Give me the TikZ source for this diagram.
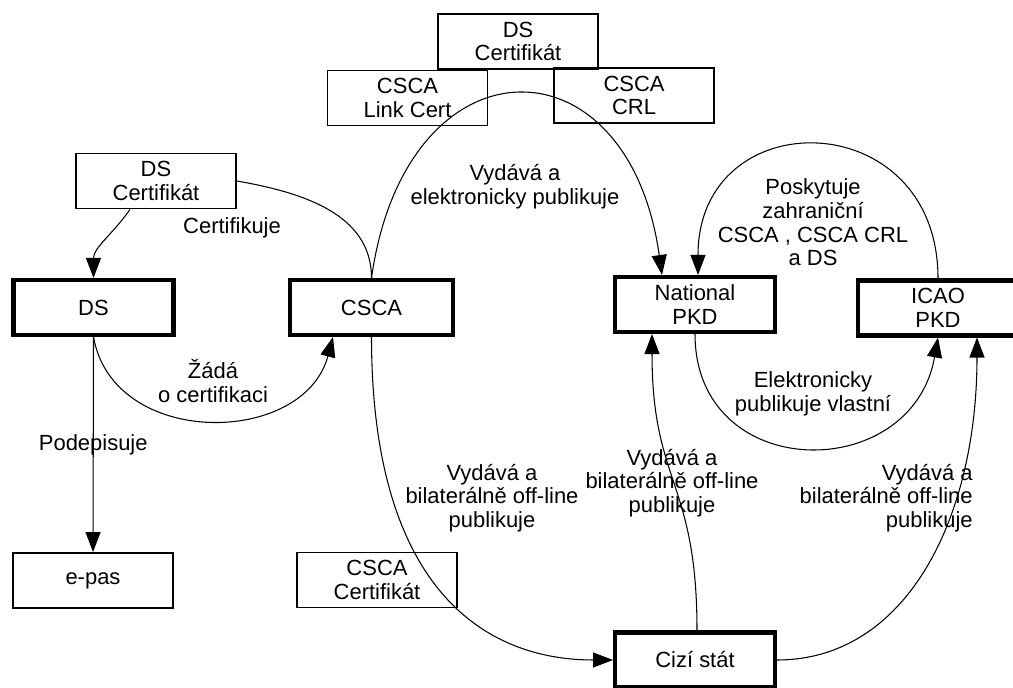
\documentclass[tikz,border=0pt]{standalone}
\usepackage{fontspec}
\setmainfont{Liberation Sans}
\usetikzlibrary{arrows.meta}

\begin{document}
\begin{tikzpicture}[
    x=0.02cm, y=0.02cm,
    font=\fontsize{12.5}{13.5}\selectfont,
    box/.style={rectangle, draw=black, line width=1.1pt, minimum width=3.2cm, minimum height=1.1cm, inner sep=0pt, align=center},
    party/.style={box, line width=2.3pt},
    lbl/.style={align=center, inner sep=0pt},
    conn/.style={-{Triangle[length=0.4cm, width=0.3cm]}, line width=0.6pt},
    link/.style={line width=0.6pt}
]
    \useasboundingbox (0,0) rectangle (1013,688);
    \clip (0,0) rectangle (1013,688);

    % Certificates on top
    \node[box] (dscerttop) at (518,646.5) {DS\\Certifikát};
    \node[box] (linkcert) at (407.5,590) {CSCA\\Link Cert};
    \node[box] (cscacrl) at (634,592.5) {CSCA\\CRL};

    % Parties
    \node[box] (dscert) at (156,507) {DS\\Certifikát};
    \node[party] (ds) at (93.5,380.5) {DS};
    \node[party, minimum width=3.26cm] (csca) at (371.5,380.5) {CSCA};
    \node[party] (natpkd) at (695,383.5) {National\\PKD};
    \node[party] (icao) at (938,380) {ICAO\\PKD};
    \node[box] (epas) at (93,107.5) {e-pas};
    \node[box] (cscacert) at (377,108) {CSCA\\Certifikát};
    \node[party] (cizi) at (695,28) {Cizí stát};

    % Connections
    \draw[conn] ([xshift=-0.52cm]dscert.south) to[out=-125, in=90] (ds.north);
    \draw[link] (dscert.east) to[out=-10, in=90] (csca.north);
    \draw[conn] (csca.north) to[out=82, in=98, distance=4.9cm] ([xshift=-0.66cm]natpkd.north);
    \draw[conn] (ds.south) to[out=-80, in=-105, distance=2.27cm] ([xshift=-0.77cm]csca.south);
    \draw[conn] (ds.south) -- node[lbl, midway] (podep) {Podepisuje} (epas.north);
    \draw[conn] (csca.south) to[out=-90, in=180, out distance=5cm, in distance=2.6cm] (cizi.west);
    \draw[conn] ([xshift=0.04cm]cizi.north) to[out=90, in=-90, distance=3cm] ([xshift=-0.86cm]natpkd.south);
    \draw[conn] (cizi.east) to[out=0, in=-90, out distance=2.6cm, in distance=3.6cm] ([xshift=0.78cm]icao.south);
    \draw[conn] (icao.north) to[out=90, in=90, distance=3.5cm] ([xshift=0.06cm]natpkd.north);
    \draw[conn] (natpkd.south) to[out=-90, in=-100, distance=3cm] (icao.south);

    % Labels
    \node[lbl] (certif) at (232,460) {Certifikuje};
    \node[lbl] (zada) at (213,307) {Žádá\\o certifikaci};
    \node[lbl] (vydel) at (515,501.5) {Vydává a\\elektronicky publikuje};
    \node[lbl] (vydcsca) at (492,190) {Vydává a\\bilaterálně off-line\\publikuje};
    \node[lbl] (vydnat) at (672,205) {Vydává a\\bilaterálně off-line\\publikuje};
    \node[lbl, anchor=east, align=right] (vydicao) at (973,190) {Vydává a\\bilaterálně off-line\\publikuje};
    \node[lbl] (posk) at (813,465.5) {Poskytuje\\zahraniční\\CSCA , CSCA CRL\\a DS};
    \node[lbl] (elpub) at (813,294.5) {Elektronicky\\publikuje vlastní};
\end{tikzpicture}
\end{document}
